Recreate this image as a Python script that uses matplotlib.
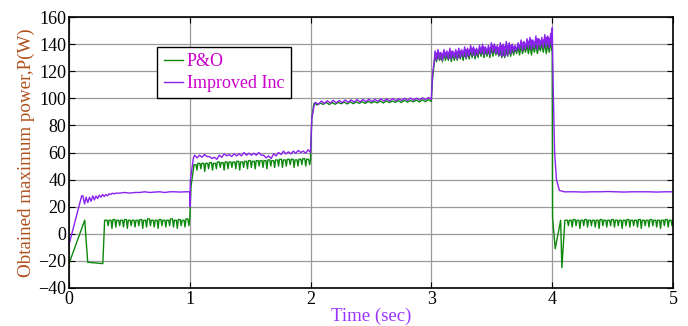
import numpy as np
import matplotlib
matplotlib.use("Agg")
import matplotlib.pyplot as plt

# ---- data (time in s, power in W) ----
# P&O
po_t_start = [0.0, 0.13, 0.155, 0.28, 0.295]
po_p_start = [-22, 10, -21, -22, 10]
po_top_a = [10, 10, 10.5, 10, 10, 10.5, 10, 10, 10, 10.5, 10, 11, 10, 10, 10.5, 10, 10, 11, 10, 10.5, 10, 11]
po_dip_a = [6, 4, 5, 6, 5, 4, 6, 5, 6, 4, 5, 6, 5, 4, 6, 5, 6, 5, 4, 6, 5, 6]
po_t_jump1 = [1.0, 1.01, 1.03]
po_p_jump1 = [12, 35, 48]
po_top_b = [51, 52, 52, 52, 52.5, 52, 53, 52.5, 53, 53, 53, 53.5, 53, 53.5, 54, 53.5, 54, 54,
            54, 54.5, 54, 54.5, 55, 54.5, 55, 55, 54.5, 55, 55.5, 55]
po_dip_b = [47, 48, 46, 48, 47, 48, 49, 47, 48, 49, 48, 47, 49, 48, 49, 48, 50, 49, 48, 50,
            49, 50, 49, 50, 51, 49, 50, 51, 50, 51]
po_t_jump2 = [2.0, 2.01, 2.025]
po_p_jump2 = [58, 85, 95]
po_c_hi = [96.5, 96.5, 97, 96.8, 97, 97.2, 97.4, 97.3, 97.5, 97.8, 97.6, 98, 98.2, 98, 98.3, 98.5, 98.4, 98.7, 98.9, 99]
po_c_lo = [95, 95.5, 95.4, 95.6, 96, 95.8, 96, 96.3, 96.2, 96.5, 96.6, 96.5, 96.8, 97, 96.9, 97.2, 97.4, 97.3, 97.5, 97.7]
po_t_jump3 = [3.0, 3.01, 3.025]
po_p_jump3 = [99, 115, 127]
po_d_hi = [133, 134, 133, 134, 133, 135, 134, 134, 135, 134, 136, 135, 136, 136, 135, 137, 137, 136, 137, 138,
           137, 136, 137, 136, 137, 138, 137, 137, 138, 139, 138, 139, 140, 139, 140, 139, 140, 141, 140, 141]
po_d_lo = [127, 128, 127, 128, 128, 127, 128, 128, 129, 128, 129, 129, 130, 129, 130, 131, 130, 131, 130, 131,
           132, 131, 130, 130, 131, 131, 132, 133, 132, 133, 134, 133, 132, 134, 133, 135, 134, 133, 134, 135]
po_t_drop = [4.0, 4.003, 4.025, 4.07, 4.08, 4.105]
po_p_drop = [139, 12, -11, 10, -25, 10]
po_top_e = [10, 10, 10.5, 10, 10, 10.5, 10, 10, 10, 10.5, 10, 10, 10.5, 10, 10, 10, 10.5, 10, 10, 10.5,
            10, 10, 10.5, 10, 10, 10, 10.5, 10]
po_dip_e = [6, 5, 6, 4, 6, 5, 6, 5, 4, 6, 5, 6, 5, 6, 4, 6, 5, 6, 5, 4, 6, 5, 6, 5, 4, 6, 5, 6]

# Improved Inc
inc_t_start = [0.0, 0.105]
inc_p_start = [-8, 28]
inc_a_hi = [28, 27, 27, 28, 28, 28.5, 29, 29, 29.5, 30, 30]
inc_a_lo = [22, 23, 24, 25, 26, 27, 27.5, 28, 29, 29.5, 30]
inc_b = [30, 30.5, 30, 30.5, 30.5, 31, 30.5, 30.8, 31, 30.5, 31, 31, 30.8, 31, 31]
inc_t_jump1 = [1.0, 1.005, 1.03]
inc_p_jump1 = [20, 40, 56]
inc_c_hi = [58, 58, 58.5, 57, 56.5, 58, 59, 58.5, 59, 59, 60, 59.5, 59.5, 60, 58, 57.5, 59, 60, 61, 60.5, 61, 61.5, 61, 62]
inc_c_lo = [56, 56.5, 57, 55.5, 55, 56.5, 57.5, 57, 57.5, 57.5, 58, 58, 58, 58, 56, 55.5, 57.5, 58.5, 59, 59, 59.5, 60, 59.5, 60]
inc_t_jump2 = [2.0, 2.01, 2.03]
inc_p_jump2 = [62, 85, 95]
inc_d_hi = [97, 98, 98.2, 98.5, 98.4, 98.7, 98.8, 99, 99.1, 99.3, 99.2, 99.5, 99.6, 99.8, 99.7, 100, 100.2, 100.1, 100.4, 100.6]
inc_d_lo = [95.5, 96.2, 96.5, 96.6, 96.8, 97, 97.2, 97.3, 97.5, 97.6, 97.8, 98, 98, 98.2, 98.4, 98.5, 98.6, 98.8, 99, 99.2]
inc_t_jump3 = [3.0, 3.01, 3.025]
inc_p_jump3 = [101, 118, 129]
inc_e_hi = [135, 136, 134, 136, 135, 137, 135, 136, 137, 136, 138, 137, 139, 138, 137, 139, 140, 138, 139, 141,
            140, 139, 141, 140, 142, 141, 140, 139, 141, 143, 142, 144, 145, 143, 146, 144, 145, 147, 146, 148]
inc_e_lo = [128, 129, 128, 130, 129, 129, 130, 129, 130, 131, 130, 131, 132, 131, 132, 133, 132, 133, 132, 134,
            133, 132, 131, 131, 132, 133, 134, 135, 136, 135, 136, 137, 136, 137, 136, 138, 137, 138, 137, 138]
inc_t_drop = [4.0, 4.01, 4.02, 4.035, 4.06, 4.1]
inc_p_drop = [152, 100, 60, 40, 32, 31]
inc_f = [31, 31, 30.8, 31, 31, 31.2, 31, 30.8, 31, 31, 31, 30.8, 31, 31]

x_ticks = [0, 1, 2, 3, 4, 5]
y_ticks = [-40, -20, 0, 20, 40, 60, 80, 100, 120, 140, 160]

GREEN = "#0d880d"
PURPLE = "#8a22ee"


def comb(t0, t1, tops, dips):
    vals = []
    for top, dip in zip(tops, dips):
        vals += [top, top, top, dip]
    vals.append(tops[-1])
    return np.linspace(t0, t1, len(vals)), np.array(vals, float)


def zigzag(t0, t1, hi, lo):
    vals = np.ravel(np.column_stack([hi, lo]))
    return np.linspace(t0, t1, len(vals)), vals


def even(t0, t1, vals):
    return np.linspace(t0, t1, len(vals)), np.array(vals, float)


def join(pieces):
    t = np.concatenate([np.asarray(p[0], float) for p in pieces])
    p = np.concatenate([np.asarray(p[1], float) for p in pieces])
    return t, p


po_t, po_p = join([
    (po_t_start, po_p_start),
    comb(0.30, 1.0, po_top_a, po_dip_a),
    (po_t_jump1, po_p_jump1),
    comb(1.035, 2.0, po_top_b, po_dip_b),
    (po_t_jump2, po_p_jump2),
    zigzag(2.03, 3.0, po_c_hi, po_c_lo),
    (po_t_jump3, po_p_jump3),
    zigzag(3.03, 4.0, po_d_hi, po_d_lo),
    (po_t_drop, po_p_drop),
    comb(4.11, 5.0, po_top_e, po_dip_e),
])

inc_t, inc_p = join([
    (inc_t_start, inc_p_start),
    zigzag(0.115, 0.4, inc_a_hi, inc_a_lo),
    even(0.42, 1.0, inc_b),
    (inc_t_jump1, inc_p_jump1),
    zigzag(1.04, 2.0, inc_c_hi, inc_c_lo),
    (inc_t_jump2, inc_p_jump2),
    zigzag(2.04, 3.0, inc_d_hi, inc_d_lo),
    (inc_t_jump3, inc_p_jump3),
    zigzag(3.03, 4.0, inc_e_hi, inc_e_lo),
    (inc_t_drop, inc_p_drop),
    even(4.12, 5.0, inc_f),
])

plt.rcParams["font.family"] = ["Liberation Serif", "DejaVu Serif"]

fig = plt.figure(figsize=(6.88, 3.26), dpi=100)
ax = fig.add_axes([69 / 688, 1 - 288 / 326, 604 / 688, 271 / 326])

# dense ripple band between 3 and 4 s
t_band = np.linspace(3.03, 4.0, len(po_d_hi))
ax.plot(po_t, po_p, color=GREEN, lw=1.0, label="P&O")
ax.fill_between(t_band, np.array(inc_e_lo) + 0.5, np.array(inc_e_hi) - 1.0, color=PURPLE, lw=0)
ax.plot(inc_t, inc_p, color=PURPLE, lw=1.0, label="Improved Inc")

ax.set_xlim(0, 5)
ax.set_ylim(-40, 160)
ax.set_xticks(x_ticks)
ax.set_yticks(y_ticks)
ax.tick_params(direction="in", top=True, right=True, labelsize=13, length=4, width=0.8, pad=2)
ax.grid(True, color="#9a9a9a", lw=0.9)
for sp in ax.spines.values():
    sp.set_linewidth(1.2)

ax.set_xlabel("Time (sec)", color="#9933ff", fontsize=13.5, labelpad=0)
ax.set_ylabel("Obtained maximum power,P(W)", color="#b0501c", fontsize=13.7, labelpad=2)

leg = ax.legend(loc="upper left", bbox_to_anchor=(0.146, 0.889), borderaxespad=0,
                fancybox=False, edgecolor="black", framealpha=1, fontsize=13,
                labelcolor="#cc00cc", handlelength=1.1, handletextpad=0.2,
                borderpad=0.35, labelspacing=0.25)
leg.get_frame().set_linewidth(1.0)

fig.savefig("out.png", dpi=100)
